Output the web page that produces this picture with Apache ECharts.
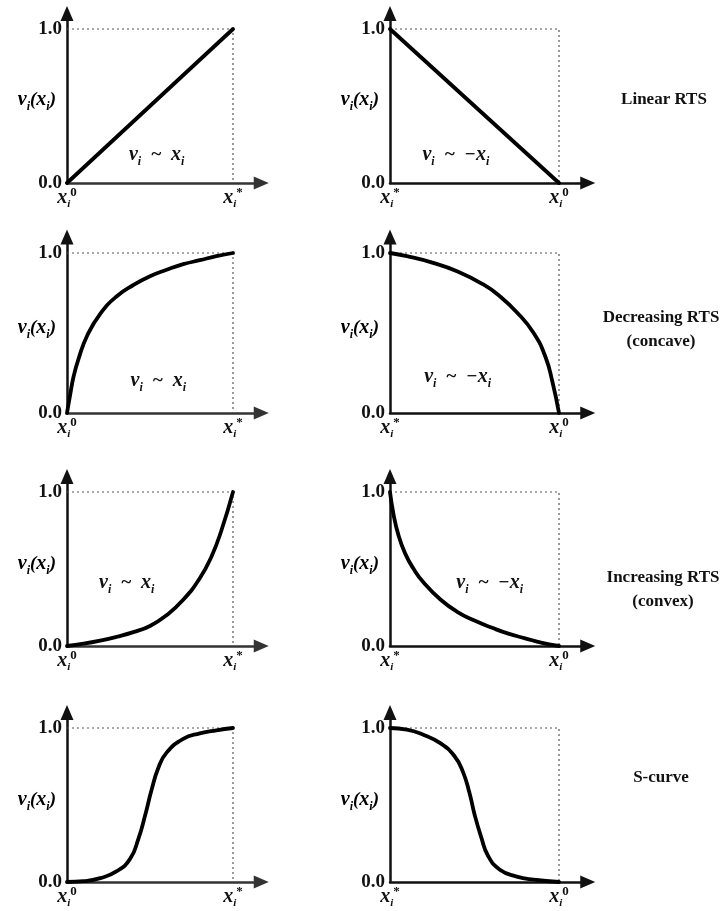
<!DOCTYPE html>
<html>
<head>
<meta charset="utf-8">
<script src="https://cdn.jsdelivr.net/npm/echarts@6/dist/echarts.min.js"></script>
<style>
  html, body { margin: 0; padding: 0; background: #fff; }
  #chart { width: 720px; height: 911px; }
</style>
</head>
<body>
<div id="chart"></div>
<script>
// Value functions v_i(x_i) on the normalised attribute range [0, 1]
const linearUp    = [[0, 0], [1, 1]];
const linearDown  = [[0, 1], [1, 0]];
const concaveUp   = [[0, 0], [0.02, 0.12], [0.04, 0.23], [0.07, 0.34], [0.12, 0.48], [0.2, 0.62],
                     [0.3, 0.73], [0.4, 0.8], [0.5, 0.855], [0.6, 0.895], [0.7, 0.93], [0.8, 0.955],
                     [0.9, 0.98], [1, 1]];
const concaveDown = [[0, 1], [0.1, 0.98], [0.25, 0.94], [0.4, 0.885], [0.55, 0.805], [0.65, 0.73],
                     [0.75, 0.63], [0.85, 0.5], [0.92, 0.35], [0.96, 0.2], [1, 0]];
const convexUp    = [[0, 0], [0.1, 0.015], [0.2, 0.035], [0.3, 0.06], [0.4, 0.09], [0.5, 0.13],
                     [0.6, 0.2], [0.7, 0.3], [0.8, 0.44], [0.87, 0.58], [0.93, 0.75], [1, 1]];
const convexDown  = [[0, 1], [0.02, 0.86], [0.05, 0.72], [0.09, 0.6], [0.14, 0.5], [0.2, 0.41],
                     [0.3, 0.3], [0.4, 0.22], [0.5, 0.165], [0.6, 0.12], [0.7, 0.08], [0.8, 0.05],
                     [0.9, 0.02], [1, 0]];
const sCurveUp    = [[0, 0], [0.1, 0.005], [0.2, 0.025], [0.3, 0.07], [0.38, 0.15], [0.43, 0.28],
                     [0.47, 0.43], [0.51, 0.6], [0.55, 0.74], [0.6, 0.84], [0.7, 0.93], [0.8, 0.965],
                     [0.9, 0.985], [1, 1]];
const sCurveDown  = [[0, 1], [0.1, 0.99], [0.2, 0.955], [0.3, 0.9], [0.38, 0.82], [0.43, 0.72],
                     [0.47, 0.58], [0.5, 0.44], [0.54, 0.29], [0.58, 0.17], [0.65, 0.08],
                     [0.75, 0.035], [0.85, 0.015], [1, 0]];

// Dotted guide: the v = 1 level and the x = x_i boundary
const guideFrame = [[0, 1], [1, 1], [1, 0]];

// Axis tick values and their labels
const yTickValues = [0, 1];
const yTickLabels = ['0.0', '1.0'];
const xTickValues = [0, 1];
const xTickLabelsIncreasing = ['{x|x}{sub|i}{sup|0}', '{x|x}{sub|i}{sup|*}'];
const xTickLabelsDecreasing = ['{x|x}{sub|i}{sup|*}', '{x|x}{sub|i}{sup|0}'];
const yAxisTitle = '{v|v}{sub|i}{t|(}{v|x}{sub|i}{t|)}';

// Row captions on the right
const rowTitles = ['Linear RTS', 'Decreasing RTS\n(concave)', 'Increasing RTS\n(convex)', 'S-curve'];

// Relation notes written inside the plots
const notesIncreasing = '{v|v}{sub|i}{t|  ~  }{v|x}{sub|i}';
const notesDecreasing = '{v|v}{sub|i}{t|  ~  −}{v|x}{sub|i}';

// ---- layout (pixels) ----
const rows = [
  { y1: 29,  y0: 183, nameY: 100 },
  { y1: 253, y0: 413, nameY: 328 },
  { y1: 492, y0: 646, nameY: 564 },
  { y1: 728, y0: 882, nameY: 800 }
];
const cols = [
  { x0: 67,  x1: 233 },
  { x0: 390, x1: 559 }
];
const X_MAX = 1.17;   // axis runs on past x_i to the arrow head
const Y_MAX = 1.10;   // axis runs on past 1.0 to the arrow head
const titleCenters = [[664, 100], [661, 330], [663, 590], [661, 778]];

const serif = '"Liberation Serif", "DejaVu Serif", serif';

const panels = [
  { row: 0, col: 0, curve: linearUp,    labels: xTickLabelsIncreasing, note: notesIncreasing, notePos: [0.54, 0.18] },
  { row: 0, col: 1, curve: linearDown,  labels: xTickLabelsDecreasing, note: notesDecreasing, notePos: [0.39, 0.18] },
  { row: 1, col: 0, curve: concaveUp,   labels: xTickLabelsIncreasing, note: notesIncreasing, notePos: [0.55, 0.20] },
  { row: 1, col: 1, curve: concaveDown, labels: xTickLabelsDecreasing, note: notesDecreasing, notePos: [0.40, 0.225] },
  { row: 2, col: 0, curve: convexUp,    labels: xTickLabelsIncreasing, note: notesIncreasing, notePos: [0.36, 0.41] },
  { row: 2, col: 1, curve: convexDown,  labels: xTickLabelsDecreasing, note: notesDecreasing, notePos: [0.59, 0.41] },
  { row: 3, col: 0, curve: sCurveUp,    labels: xTickLabelsIncreasing, note: null, notePos: null },
  { row: 3, col: 1, curve: sCurveDown,  labels: xTickLabelsDecreasing, note: null, notePos: null }
];

// rich-text styles for tick labels (x_i with super/subscripts)
const tickRich = {
  x:   { fontFamily: serif, fontStyle: 'italic', fontWeight: 'bold', fontSize: 20, lineHeight: 24, verticalAlign: 'middle', color: '#111' },
  sub: { fontFamily: serif, fontStyle: 'italic', fontWeight: 'bold', fontSize: 11, lineHeight: 12, verticalAlign: 'bottom', color: '#111' },
  sup: { fontFamily: serif, fontWeight: 'bold', fontSize: 13, lineHeight: 13, verticalAlign: 'top', color: '#111' }
};
// rich-text styles for v_i(x_i) and the relation notes
const mathRich = {
  v:   { fontFamily: serif, fontStyle: 'italic', fontWeight: 'bold', fontSize: 20, lineHeight: 26, verticalAlign: 'middle', color: '#111', textBorderWidth: 0 },
  t:   { fontFamily: serif, fontStyle: 'italic', fontWeight: 'bold', fontSize: 19, lineHeight: 26, verticalAlign: 'middle', color: '#111', textBorderWidth: 0 },
  sub: { fontFamily: serif, fontStyle: 'italic', fontWeight: 'bold', fontSize: 12, lineHeight: 13, verticalAlign: 'bottom', color: '#111', textBorderWidth: 0 }
};

const grids = [], xAxes = [], yAxes = [], series = [], graphics = [];

panels.forEach((p, i) => {
  const r = rows[p.row], c = cols[p.col];
  const h = r.y0 - r.y1, w = c.x1 - c.x0;
  grids.push({
    left: c.x0,
    top: r.y1 - h * (Y_MAX - 1),
    width: w * X_MAX,
    height: h * Y_MAX,
    containLabel: false,
    outerBoundsMode: 'none'
  });

  const xLabels = p.labels;
  xAxes.push({
    gridIndex: i, type: 'value', min: 0, max: X_MAX, interval: 1,
    splitLine: { show: false }, axisTick: { show: false },
    axisLine: {
      show: true, onZero: false,
      symbol: ['none', 'triangle'], symbolSize: [13, 15],
      lineStyle: { color: p.col === 0 ? '#333' : '#111', width: 2.5 }
    },
    axisLabel: {
      margin: 3, showMaxLabel: false, hideOverlap: false,
      formatter: v => {
        const k = xTickValues.indexOf(v);
        return k >= 0 ? xLabels[k] : '';
      },
      rich: tickRich
    }
  });

  yAxes.push({
    gridIndex: i, type: 'value', min: 0, max: Y_MAX, interval: 1,
    splitLine: { show: false }, axisTick: { show: false },
    axisLine: {
      show: true, onZero: false,
      symbol: ['none', 'triangle'], symbolSize: [13, 15],
      lineStyle: { color: '#111', width: 2.5 }
    },
    axisLabel: {
      margin: 5, showMaxLabel: false, hideOverlap: false,
      fontFamily: serif, fontWeight: 'bold', fontSize: 19, color: '#111',
      formatter: v => {
        const k = yTickValues.indexOf(v);
        return k >= 0 ? yTickLabels[k] : '';
      }
    }
  });

  // axis title v_i(x_i), right-aligned a little left of the vertical axis
  graphics.push({
    type: 'text', x: c.x0 - 11, y: r.nameY, silent: true,
    style: { text: yAxisTitle, rich: mathRich, textAlign: 'right', textVerticalAlign: 'middle' }
  });

  series.push({
    type: 'line', xAxisIndex: i, yAxisIndex: i, data: guideFrame,
    symbol: 'none', silent: true, z: 1,
    lineStyle: { color: '#555', width: 1.2, type: [2, 3] }
  });
  series.push({
    type: 'line', xAxisIndex: i, yAxisIndex: i, data: p.curve,
    symbol: 'none', smooth: 0.5, z: 3,
    lineStyle: { color: '#000', width: 3.8, cap: 'round', join: 'round' }
  });
  if (p.note) {
    series.push({
      type: 'scatter', xAxisIndex: i, yAxisIndex: i, data: [p.notePos],
      symbolSize: 0, silent: true, z: 4,
      itemStyle: { color: '#111', opacity: 1 },
      label: {
        show: true, position: 'inside', formatter: p.note, rich: mathRich,
        color: '#111', opacity: 1, textBorderWidth: 0, textShadowBlur: 0
      }
    });
  }
});

rowTitles.forEach((txt, k) => {
  graphics.push({
    type: 'text',
    x: titleCenters[k][0], y: titleCenters[k][1],
    style: {
      text: txt, textAlign: 'center', textVerticalAlign: 'middle',
      font: 'bold 17px ' + serif, lineHeight: 24, fill: '#111'
    }
  });
});

const chart = echarts.init(document.getElementById('chart'), null, { renderer: 'canvas' });
chart.setOption({
  backgroundColor: '#fff',
  animation: false,
  grid: grids,
  xAxis: xAxes,
  yAxis: yAxes,
  series: series,
  graphic: graphics
});
</script>
</body>
</html>
